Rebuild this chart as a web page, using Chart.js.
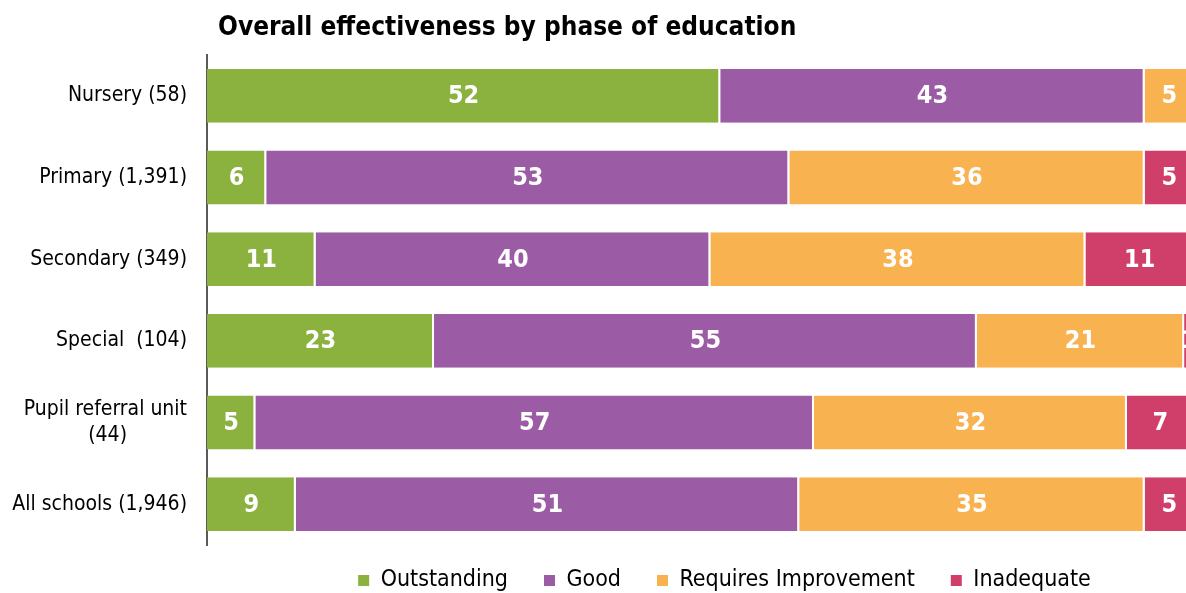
<!DOCTYPE html>
<html>
<head>
<meta charset="utf-8">
<script src="https://cdn.jsdelivr.net/npm/chart.js@4.4.1/dist/chart.umd.min.js"></script>
<style>
  html, body { margin: 0; padding: 0; background: #fff; overflow: hidden; }
  #wrap { position: relative; width: 1200px; height: 593px; }
</style>
</head>
<body>
<div id="wrap"><canvas id="chart"></canvas></div>
<script>
// categories (phase of education, number of schools)
var phases = ['Nursery (58)', 'Primary (1,391)', 'Secondary (349)', 'Special  (104)',
  ['Pupil referral unit', '(44)          '], 'All schools (1,946)'];

// percentage of schools per judgement
var outstanding = [52, 6, 11, 23, 4.9, 9];
var good = [43, 53, 40, 55, 56.6, 51];
var requiresImprovement = [5, 36, 38, 21, 31.7, 35];
var inadequate = [0, 5, 11, 1, 6.8, 5];

var seriesNames = ['Outstanding', 'Good', 'Requires Improvement', 'Inadequate'];
var seriesColors = ['#8bb13f', '#9b5ba5', '#f8b24f', '#d03e6a'];

var FONT = "'DejaVu Sans Condensed', 'DejaVu Sans', sans-serif";

// white numbers in the middle of each segment
var segmentLabels = {
  id: 'segmentLabels',
  afterDatasetsDraw: function(chart) {
    var ctx = chart.ctx;
    ctx.save();
    ctx.fillStyle = '#fff';
    ctx.font = 'bold 25px ' + FONT;
    ctx.textAlign = 'center';
    ctx.textBaseline = 'middle';
    chart.data.datasets.forEach(function(ds, i) {
      chart.getDatasetMeta(i).data.forEach(function(bar, j) {
        var v = ds.data[j];
        if (!v) return;
        var p = bar.getProps(['x', 'base', 'y'], true);
        ctx.fillText(Math.round(v), (p.x + p.base) / 2, p.y + 1);
      });
    });
    ctx.restore();
  }
};

// left aligned title over the plot
var topTitle = {
  id: 'topTitle',
  afterDraw: function(chart) {
    var ctx = chart.ctx;
    ctx.save();
    ctx.fillStyle = '#000';
    ctx.font = 'bold 26px ' + FONT;
    ctx.textAlign = 'left';
    ctx.textBaseline = 'middle';
    ctx.fillText('Overall effectiveness by phase of education', chart.chartArea.left + 11, 28);
    ctx.restore();
  }
};

// legend sits a bit right of the plot centre and close under it in the original
var legendShift = {
  id: 'legendShift',
  afterLayout: function(chart) {
    var lg = chart.legend;
    lg.left += 24;
    lg.right += 24;
    lg.top -= 12;
    lg.bottom = chart.height;
  }
};

var datasets = [outstanding, good, requiresImprovement, inadequate].map(function(d, i) {
  return {
    label: seriesNames[i],
    data: d,
    backgroundColor: seriesColors[i],
    borderColor: 'rgba(255,255,255,0.85)',
    borderWidth: { left: 0, right: 2, top: 0, bottom: 0 },
    borderSkipped: false,
    barPercentage: 0.66,
    categoryPercentage: 1
  };
});

new Chart(document.getElementById('chart'), {
  type: 'bar',
  data: { labels: phases, datasets: datasets },
  options: {
    indexAxis: 'y',
    responsive: true,
    maintainAspectRatio: false,
    animation: false,
    layout: { padding: { top: 55, right: 6, left: 0, bottom: 0 } },
    scales: {
      x: {
        stacked: true,
        min: 0,
        max: 100,
        display: false
      },
      y: {
        stacked: true,
        grid: { display: false },
        border: { display: true, color: '#5a5a5a', width: 2 },
        ticks: {
          color: '#000',
          font: { family: FONT, size: 21, lineHeight: 1.24 },
          padding: 12,
          autoSkip: false
        },
        afterFit: function(axis) { axis.width = 207; }
      }
    },
    plugins: {
      legend: {
        position: 'bottom',
        fullSize: false,
        maxHeight: 48,
        labels: {
          color: '#000',
          font: { family: FONT, size: 23 },
          boxWidth: 11,
          boxHeight: 11,
          padding: 36,
          generateLabels: function(chart) {
            return chart.data.datasets.map(function(ds, i) {
              return { text: ds.label, fillStyle: ds.backgroundColor, strokeStyle: ds.backgroundColor,
                lineWidth: 0, hidden: false, datasetIndex: i, fontColor: '#000' };
            });
          }
        }
      },
      tooltip: { enabled: false }
    }
  },
  plugins: [segmentLabels, topTitle, legendShift]
});
</script>
</body>
</html>
